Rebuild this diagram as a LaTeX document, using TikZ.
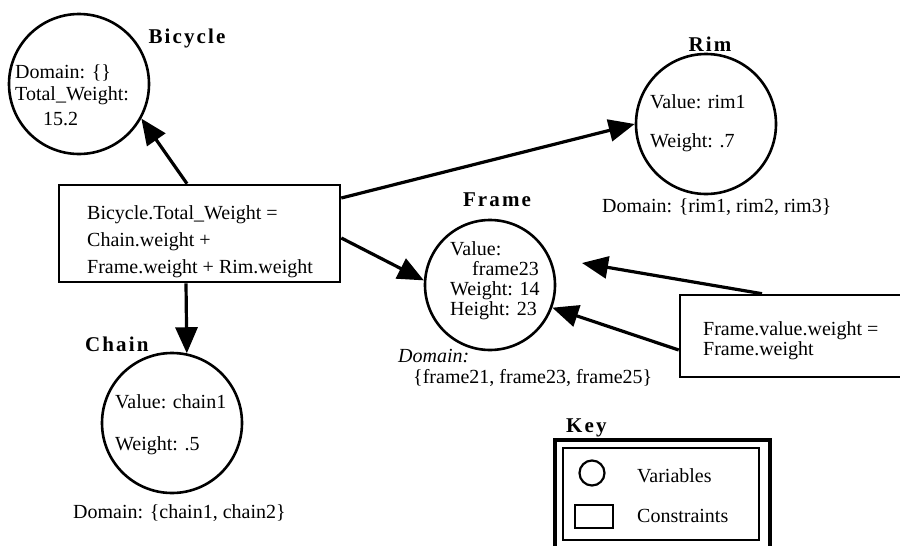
\documentclass[tikz,border=0pt]{standalone}
\usepackage{fontspec}
\setmainfont{Liberation Serif}
\newfontfamily\lblfont[LetterSpace=10]{Liberation Serif}
\usetikzlibrary{arrows.meta}

\begin{document}
\begin{tikzpicture}[x=1pt,y=-1pt,
  var/.style={draw, circle, line width=2.6pt, minimum size=#1, inner sep=0pt},
  cons/.style={draw, rectangle, line width=2.6pt, inner sep=0pt},
  txt/.style={anchor=base west, inner sep=0pt, font=\fontsize{20}{20}\selectfont},
  lbl/.style={anchor=base, inner sep=0pt, font=\lblfont\bfseries\fontsize{21}{21}\selectfont},
  link/.style={line width=3.2pt, -{Triangle[length=26pt,width=22pt]}},
]
\useasboundingbox (0,0) rectangle (900,546);
\clip (0,0) rectangle (900,546);

% variables
\node[var=140pt] (bicycle) at (79,84) {};
\node[var=140pt] (rim) at (706,124) {};
\node[var=130pt] (frame) at (490,285) {};
\node[var=140pt] (chain) at (172,423) {};

% constraints
\node[cons, minimum width=281pt, minimum height=97pt] (box1) at (199.5,233.5) {};
\node[cons, minimum width=240pt, minimum height=82pt] (box2) at (800,336) {};

% variable names
\node[lbl] (lbike) at (187,43) {Bicycle};
\node[lbl] (lrim) at (710,51) {Rim};
\node[lbl] (lframe) at (497,206) {Frame};
\node[lbl, anchor=base west] (lchain) at (85,351) {Chain};

% bicycle contents
\node[txt] (t1) at (15,78) {Domain: \{\}};
\node[txt] (t2) at (15,100) {Total\_Weight:};
\node[txt] (t3) at (43,125) {15.2};

% rim contents
\node[txt] (t4) at (650,108) {Value: rim1};
\node[txt] (t5) at (650,147) {Weight: .7};
\node[txt] (t6) at (602,212) {Domain: \{rim1, rim2, rim3\}};

% frame contents
\node[txt] (t7) at (450,255) {Value:};
\node[txt] (t8) at (472,275) {frame23};
\node[txt] (t9) at (450,295) {Weight: 14};
\node[txt] (t10) at (450,315) {Height: 23};
\node[txt] (t11) at (398,362) {\itshape Domain:};
\node[txt] (t12) at (413,383) {\{frame21, frame23, frame25\}};

% chain contents
\node[txt] (t13) at (115,408) {Value: chain1};
\node[txt] (t14) at (115,450) {Weight: .5};
\node[txt] (t15) at (73,518) {Domain: \{chain1, chain2\}};

% constraint texts
\node[txt] (c1) at (87,219) {Bicycle.Total\_Weight =};
\node[txt] (c2) at (87,246) {Chain.weight +};
\node[txt] (c3) at (87,273) {Frame.weight + Rim.weight};
\node[txt] (c4) at (703,335) {Frame.value.weight =};
\node[txt] (c5) at (703,355) {Frame.weight};

% connectors
\coordinate (frin) at (582,263);
\draw[link] ([xshift=-12.5pt]box1.north) -- (bicycle.-29);
\draw[link] ([yshift=35.5pt]box1.east) -- (rim.west);
\draw[link] ([yshift=-4.5pt]box1.east) -- (frame.176);
\draw[link] ([xshift=-13.5pt]box1.south) -- (chain.78);
\draw[link] ([xshift=-38pt]box2.north) -- (frin);
\draw[link] ([yshift=-14pt]box2.west) -- (frame.-20);

% key
\node[lbl, anchor=base west] (lkey) at (566,432) {Key};
\draw[line width=4pt] (555,440) rectangle (770,560);
\draw[line width=1.6pt] (563,448) rectangle (759,540);
\node[var=25pt, line width=2.2pt] (kvar) at (592,473) {};
\node[cons, line width=2.2pt, minimum width=38pt, minimum height=23pt] (kcons) at (594,516.5) {};
\node[txt] (kt1) at (637,482) {Variables};
\node[txt] (kt2) at (637,522) {Constraints};
\end{tikzpicture}
\end{document}
